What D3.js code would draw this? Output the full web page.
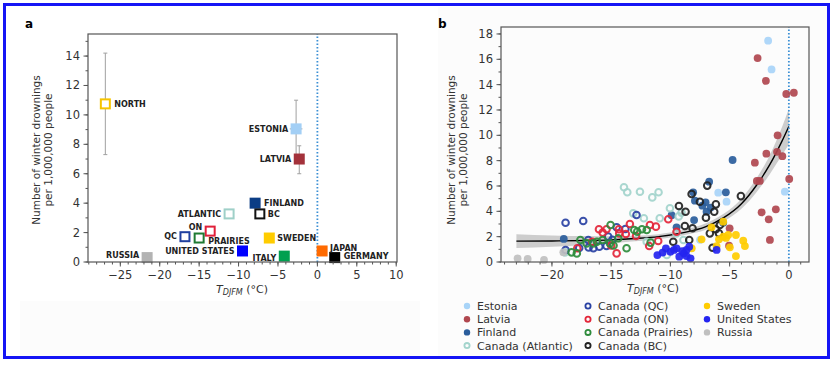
<!DOCTYPE html>
<html>
<head>
<meta charset="utf-8">
<script src="https://cdn.jsdelivr.net/npm/d3@7"></script>
<style>
  body { margin: 0; background: #fff; }
  svg { font-family: "DejaVu Sans", sans-serif; }
</style>
</head>
<body>
<div id="chart"></div>
<script>
// ---- panel a data: region means ----
var regions = ["NORTH", "ESTONIA", "LATVIA", "FINLAND", "BC", "ATLANTIC", "ON", "QC", "PRAIRIES", "SWEDEN", "UNITED STATES", "ITALY", "JAPAN", "GERMANY", "RUSSIA"];
var regionT = [-26.9, -2.7, -2.3, -7.9, -7.3, -11.2, -13.6, -16.8, -15.0, -6.1, -9.5, -4.2, 0.6, 2.2, -21.6];
var regionRate = [10.75, 9.05, 7.0, 4.0, 3.27, 3.27, 2.1, 1.72, 1.63, 1.63, 0.75, 0.4, 0.75, 0.3, 0.3];
var regionLo = [7.3, 7.1, 6.0, 3.75, 3.15, 3.0, 2.0, 1.6, 1.5, 1.55, 0.7, 0.3, 0.7, 0.25, 0.25];
var regionHi = [14.2, 11.0, 7.9, 4.3, 3.4, 3.5, 2.2, 1.85, 1.75, 1.7, 0.8, 0.5, 0.8, 0.35, 0.35];
var regionTerr = [0, 0.8, 0.3, 0, 0, 0, 0, 0, 0, 0, 0, 0, 0, 0, 0];

// ---- panel b data: yearly points per country / province ----
var seriesNames = ["Estonia", "Latvia", "Finland", "Canada (Atlantic)", "Canada (QC)", "Canada (ON)", "Canada (Prairies)", "Canada (BC)", "Sweden", "United States", "Russia"];

var estoniaT = [-1.75, -1.46, -5.96, -5.26, -0.34, -7.5];
var estoniaR = [17.47, 15.2, 5.47, 4.76, 5.55, 1.75];

var latviaT = [-2.64, -1.94, -0.22, 0.42, -0.95, -1.9, -1.0, -0.55, -2.87, -2.7, -2.45, 0.03, -2.3, -1.1, -1.7, -1.6, -5.0, -5.05];
var latviaR = [16.1, 14.3, 13.26, 13.36, 10.0, 8.55, 8.7, 8.35, 7.84, 6.4, 6.4, 6.55, 3.92, 4.16, 3.37, 1.74, 2.66, 1.29];

var finlandT = [-4.75, -6.73, -5.32, -8.08, -7.93, -7.03, -6.95, -8.0, -5.54, -9.9, -9.48, -6.6, -7.3, -19.0];
var finlandR = [8.05, 6.34, 5.5, 5.5, 4.84, 4.71, 3.97, 3.31, 3.1, 3.7, 2.74, 4.3, 4.45, 1.82];

var atlanticT = [-13.92, -13.64, -12.57, -11.53, -11.0, -13.14, -12.24, -10.9, -10.04, -9.06, -8.9, -10.3, -12.0, -9.5, -18.9, -9.3];
var atlanticR = [5.9, 5.5, 5.55, 5.1, 5.5, 3.84, 3.45, 3.45, 4.24, 3.9, 1.74, 0.55, 1.6, 2.26, 0.76, 3.6];

var qcT = [-18.85, -17.36, -18.85, -16.5, -16.0, -15.39, -14.54, -12.86, -15.25, -16.93, -17.7, -14.9, -13.8, -16.9];
var qcR = [3.1, 3.24, 0.95, 1.08, 1.21, 1.26, 2.74, 3.71, 2.0, 1.74, 1.1, 1.75, 2.6, 1.15];

var onT = [-17.86, -16.03, -15.39, -15.72, -14.35, -14.32, -13.42, -13.76, -11.73, -11.22, -10.18, -9.48, -11.03, -11.79, -14.54, -15.0, -12.9, -16.6];
var onR = [1.08, 2.58, 2.58, 2.32, 2.58, 2.26, 3.0, 2.21, 2.92, 2.79, 3.37, 2.39, 1.66, 1.26, 0.68, 1.3, 2.05, 1.6];

var prairiesT = [-15.05, -13.05, -12.4, -12.0, -17.6, -17.07, -16.5, -18.34, -17.9, -15.72, -15.1, -13.7, -14.4, -11.67, -16.2, -14.8, -12.8];
var prairiesR = [2.92, 2.53, 2.58, 2.53, 1.74, 1.47, 1.47, 0.76, 0.68, 1.74, 1.47, 1.08, 1.87, 1.53, 1.6, 1.3, 2.4];

var bcT = [-9.28, -8.72, -8.21, -7.51, -6.89, -7.0, -6.16, -6.3, -4.05, -8.78, -8.13, -8.41, -9.76, -6.44, -6.16, -5.9, -5.82, -6.67];
var bcR = [4.42, 3.97, 5.37, 4.76, 6.03, 3.5, 4.55, 3.97, 5.2, 2.84, 2.66, 1.74, 1.6, 1.13, 2.58, 2.26, 2.92, 2.26];

var swedenT = [-7.37, -6.53, -5.9, -5.54, -5.12, -4.47, -3.85, -3.71, -4.98, -4.47, -6.1, -5.54, -8.2, -5.3];
var swedenR = [1.79, 2.74, 1.79, 2.0, 2.13, 2.13, 1.68, 1.26, 1.16, 0.47, 1.26, 3.18, 1.08, 1.9];

var usT = [-11.1, -10.66, -10.38, -9.7, -9.48, -9.25, -8.86, -8.41, -8.3, -8.64, -6.1, -8.64, -10.0, -9.0];
var usR = [0.55, 0.74, 1.08, 0.95, 1.08, 0.42, 0.68, 1.21, 0.29, 0.47, 0.95, 0.95, 0.8, 0.85];

var russiaT = [-22.9, -22.05, -20.67, -19.04];
var russiaR = [0.29, 0.24, 0.16, 0.76];

// fitted exponential curve with confidence band
var fitT = [-23, -20, -17, -15, -13, -11, -9, -7, -5.5, -4, -2.7, -1.6, -0.6, 0];
var fitR = [1.65, 1.66, 1.7, 1.75, 1.85, 2.0, 2.3, 2.8, 3.5, 4.6, 6.1, 7.7, 9.5, 10.7];
var fitLo = [1.1, 1.2, 1.35, 1.47, 1.63, 1.8, 2.1, 2.55, 3.2, 4.2, 5.55, 6.95, 8.4, 9.3];
var fitHi = [2.2, 2.1, 2.05, 2.03, 2.07, 2.2, 2.5, 3.05, 3.8, 5.0, 6.65, 8.45, 10.6, 12.1];

var xTicksA = [-25, -20, -15, -10, -5, 0, 5, 10];
var yTicksA = [0, 2, 4, 6, 8, 10, 12, 14];
var xTicksB = [-20, -15, -10, -5, 0];
var yTicksB = [0, 2, 4, 6, 8, 10, 12, 14, 16, 18];

// ---- styles ----
var regionStyle = {
  "NORTH": { c: "#f6c400", hollow: true },
  "ESTONIA": { c: "#a3cff5" },
  "LATVIA": { c: "#a3323b" },
  "FINLAND": { c: "#0b3d85" },
  "BC": { c: "#111", hollow: true },
  "ATLANTIC": { c: "#9fd0c8", hollow: true },
  "ON": { c: "#e0203a", hollow: true },
  "QC": { c: "#1f3f9f", hollow: true },
  "PRAIRIES": { c: "#1f7a33", hollow: true },
  "SWEDEN": { c: "#ffcc00" },
  "UNITED STATES": { c: "#0000ff" },
  "ITALY": { c: "#00a050" },
  "JAPAN": { c: "#ff6a00" },
  "GERMANY": { c: "#000" },
  "RUSSIA": { c: "#b3b3b3" }
};
// label placement (pixels relative to marker)
var labelPos = {
  "NORTH": [9, 0, "start"], "ESTONIA": [-8, 0, "end"], "LATVIA": [-8, 0, "end"],
  "FINLAND": [9, 0, "start"], "BC": [8, 0, "start"], "ATLANTIC": [-8, 0, "end"],
  "ON": [-8, -4, "end"], "QC": [-8, -1, "end"], "PRAIRIES": [9, 3, "start"],
  "SWEDEN": [8, 0, "start"], "UNITED STATES": [-8, 0, "end"], "ITALY": [-8, 2, "end"],
  "JAPAN": [8, -3, "start"], "GERMANY": [9, -2, "start"], "RUSSIA": [-8, -3, "end"]
};

var seriesStyle = [
  { c: "#a8d4f8" }, { c: "#b0474f" }, { c: "#2a5d9c" }, { c: "#a3d4cc", hollow: true },
  { c: "#2941a3", hollow: true }, { c: "#e3263a", hollow: true }, { c: "#2e8b3c", hollow: true },
  { c: "#222", hollow: true }, { c: "#ffcc00" }, { c: "#2424f0" }, { c: "#c0c0c0" }
];
var seriesT = [estoniaT, latviaT, finlandT, atlanticT, qcT, onT, prairiesT, bcT, swedenT, usT, russiaT];
var seriesR = [estoniaR, latviaR, finlandR, atlanticR, qcR, onR, prairiesR, bcR, swedenR, usR, russiaR];

var W = 837, H = 368;
var svg = d3.select("#chart").append("svg").attr("width", W).attr("height", H);

// faint background boxes
svg.append("rect").attr("x", 438).attr("y", 7).attr("width", 389).attr("height", 350).attr("fill", "#fcfcfc");
svg.append("rect").attr("x", 20).attr("y", 301).attr("width", 400).attr("height", 56).attr("fill", "#fcfcfc");

function fmt(d) { return d < 0 ? "\u2212" + Math.abs(d) : String(d); }

function drawAxes(g, x, y, xt, yt, xMinor, yMinor) {
  var x0 = x.range()[0], x1 = x.range()[1], y0 = y.range()[0], y1 = y.range()[1];
  var xa = g.append("g").attr("transform", "translate(0," + y0 + ")");
  xa.selectAll("line.mn").data(xMinor).enter().append("line")
    .attr("x1", x).attr("x2", x).attr("y1", 0).attr("y2", 2.5).attr("stroke", "#555");
  xa.selectAll("line.mj").data(xt).enter().append("line")
    .attr("x1", x).attr("x2", x).attr("y1", 0).attr("y2", 4.5).attr("stroke", "#555");
  xa.selectAll("text").data(xt).enter().append("text")
    .attr("x", x).attr("y", 16.5).attr("text-anchor", "middle")
    .attr("font-size", 11.5).attr("fill", "#333").text(fmt);
  var ya = g.append("g").attr("transform", "translate(" + x0 + ",0)");
  ya.selectAll("line.mn").data(yMinor).enter().append("line")
    .attr("y1", y).attr("y2", y).attr("x1", 0).attr("x2", -2.5).attr("stroke", "#555");
  ya.selectAll("line.mj").data(yt).enter().append("line")
    .attr("y1", y).attr("y2", y).attr("x1", 0).attr("x2", -4.5).attr("stroke", "#555");
  ya.selectAll("text").data(yt).enter().append("text")
    .attr("x", -8).attr("y", function (d) { return y(d) + 4; }).attr("text-anchor", "end")
    .attr("font-size", 11.5).attr("fill", "#333").text(fmt);
  g.append("rect").attr("x", x0).attr("y", y1).attr("width", x1 - x0).attr("height", y0 - y1)
    .attr("fill", "none").attr("stroke", "#555").attr("stroke-width", 1.2);
}

function xLabel(g, cx, cy) {
  var t = g.append("text").attr("x", cx).attr("y", cy).attr("text-anchor", "middle")
    .attr("font-size", 11).attr("fill", "#333");
  t.append("tspan").attr("font-style", "italic").text("T");
  t.append("tspan").attr("font-style", "italic").attr("font-size", 8).attr("dy", 2).text("DJFM");
  t.append("tspan").attr("dy", -2).text(" (\u00b0C)");
}
function yLabel(g, cx, cy) {
  var t = g.append("text").attr("transform", "translate(" + cx + "," + cy + ") rotate(-90)")
    .attr("text-anchor", "middle").attr("font-size", 10.5).attr("fill", "#333");
  t.append("tspan").attr("x", 0).attr("dy", 0).text("Number of winter drownings");
  t.append("tspan").attr("x", 0).attr("dy", 12).text("per 1,000,000 people");
}

function range1(a, b) { return d3.range(a, b + 0.001, 1); }

// ================= panel a =================
var ga = svg.append("g");
var xa = d3.scaleLinear().domain([-29.1, 10.1]).range([88, 397]);
var ya = d3.scaleLinear().domain([0, 15.5]).range([262, 34]);

ga.append("line").attr("x1", xa(0)).attr("x2", xa(0)).attr("y1", ya(0)).attr("y2", ya(15.5))
  .attr("stroke", "#3b8fd4").attr("stroke-width", 1.8).attr("stroke-dasharray", "1.5,2");

var pts = regions.map(function (r, i) {
  return { name: r, t: regionT[i], v: regionRate[i], lo: regionLo[i], hi: regionHi[i], te: regionTerr[i] };
});
var eb = ga.append("g").attr("stroke", "#a0a0a0").attr("stroke-width", 1);
pts.forEach(function (p) {
  eb.append("line").attr("x1", xa(p.t)).attr("x2", xa(p.t)).attr("y1", ya(p.lo)).attr("y2", ya(p.hi));
  eb.append("line").attr("x1", xa(p.t) - 2).attr("x2", xa(p.t) + 2).attr("y1", ya(p.lo)).attr("y2", ya(p.lo));
  eb.append("line").attr("x1", xa(p.t) - 2).attr("x2", xa(p.t) + 2).attr("y1", ya(p.hi)).attr("y2", ya(p.hi));
  if (p.te > 0) {
    eb.append("line").attr("x1", xa(p.t - p.te)).attr("x2", xa(p.t + p.te)).attr("y1", ya(p.v)).attr("y2", ya(p.v));
  }
});
ga.selectAll("rect.m").data(pts).enter().append("rect")
  .attr("x", function (d) { return xa(d.t) - (regionStyle[d.name].hollow ? 4.5 : 5.5); })
  .attr("y", function (d) { return ya(d.v) - (regionStyle[d.name].hollow ? 4.5 : 5.5); })
  .attr("width", function (d) { return regionStyle[d.name].hollow ? 9 : 11; })
  .attr("height", function (d) { return regionStyle[d.name].hollow ? 9 : 11; })
  .attr("fill", function (d) { return regionStyle[d.name].hollow ? "#fff" : regionStyle[d.name].c; })
  .attr("stroke", function (d) { return regionStyle[d.name].hollow ? regionStyle[d.name].c : "none"; })
  .attr("stroke-width", 2);
ga.selectAll("text.lb").data(pts).enter().append("text")
  .attr("x", function (d) { return xa(d.t) + labelPos[d.name][0]; })
  .attr("y", function (d) { return ya(d.v) + labelPos[d.name][1] + 3; })
  .attr("text-anchor", function (d) { return labelPos[d.name][2]; })
  .attr("font-size", 8).attr("font-weight", "bold").attr("fill", "#222")
  .text(function (d) { return d.name; });

drawAxes(ga, xa, ya, xTicksA, yTicksA, range1(-29, 10), range1(0, 15));
xLabel(ga, 242, 293);
yLabel(ga, 40, 150);
svg.append("text").attr("x", 25).attr("y", 28).attr("font-size", 12).attr("font-weight", "bold").text("a");

// ================= panel b =================
var gb = svg.append("g");
var xb = d3.scaleLinear().domain([-24.3, 1.7]).range([501, 809]);
var yb = d3.scaleLinear().domain([0, 18.55]).range([262, 27]);

var band = fitT.map(function (t, i) { return { t: t, r: fitR[i], lo: fitLo[i], hi: fitHi[i] }; });
gb.append("path").datum(band)
  .attr("d", d3.area().x(function (d) { return xb(d.t); })
    .y0(function (d) { return yb(d.lo); }).y1(function (d) { return yb(d.hi); })
    .curve(d3.curveMonotoneX))
  .attr("fill", "#c4c4c4").attr("opacity", 0.85);
gb.append("path").datum(band)
  .attr("d", d3.line().x(function (d) { return xb(d.t); }).y(function (d) { return yb(d.r); })
    .curve(d3.curveMonotoneX))
  .attr("fill", "none").attr("stroke", "#000").attr("stroke-width", 1.4);

gb.append("line").attr("x1", xb(0)).attr("x2", xb(0)).attr("y1", yb(0)).attr("y2", yb(18.55))
  .attr("stroke", "#3b8fd4").attr("stroke-width", 1.8).attr("stroke-dasharray", "1.5,2");

seriesNames.forEach(function (name, si) {
  var st = seriesStyle[si];
  var data = seriesT[si].map(function (t, i) { return { t: t, r: seriesR[si][i] }; });
  gb.append("g").selectAll("circle").data(data).enter().append("circle")
    .attr("cx", function (d) { return xb(d.t); })
    .attr("cy", function (d) { return yb(d.r); })
    .attr("r", st.hollow ? 3.3 : 3.9)
    .attr("fill", st.hollow ? "none" : st.c)
    .attr("stroke", st.hollow ? st.c : "none")
    .attr("stroke-width", 2)
    .attr("opacity", 0.92);
});

drawAxes(gb, xb, yb, xTicksB, yTicksB, range1(-24, 1), range1(0, 18));
xLabel(gb, 653, 292);
yLabel(gb, 455, 150);
svg.append("text").attr("x", 438).attr("y", 28).attr("font-size", 12).attr("font-weight", "bold").text("b");

// legend
var lg = svg.append("g");
seriesNames.forEach(function (name, i) {
  var col = Math.floor(i / 4), row = i % 4;
  var cx = [467, 588, 707][col], cy = 306 + row * 13.2;
  var st = seriesStyle[i];
  lg.append("circle").attr("cx", cx).attr("cy", cy).attr("r", st.hollow ? 2.6 : 3.2)
    .attr("fill", st.hollow ? "none" : st.c).attr("stroke", st.hollow ? st.c : "none").attr("stroke-width", 1.8);
  lg.append("text").attr("x", cx + 10).attr("y", cy + 4).attr("font-size", 11).attr("fill", "#333").text(name);
});

// outer frame
svg.append("rect").attr("x", 4.5).attr("y", 4.5).attr("width", 824).attr("height", 353)
  .attr("fill", "none").attr("stroke", "#1515f5").attr("stroke-width", 3);
</script>
</body>
</html>
